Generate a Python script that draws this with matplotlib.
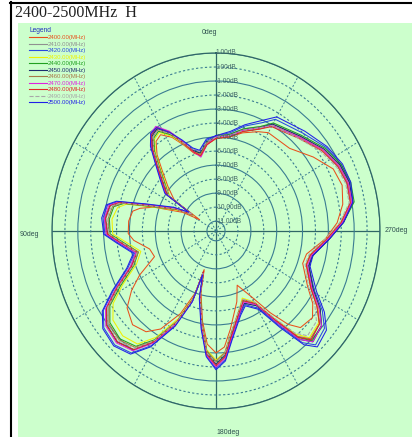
import numpy as np
import matplotlib
matplotlib.use("Agg")
import matplotlib.pyplot as plt
from matplotlib.lines import Line2D
from matplotlib.patches import Rectangle

W, H = 412, 437

# angles along the traced path (deg, 0 at top, counter-clockwise)
angles = [0, 6.5, 12.5, 17, 22, 27, 32, 36, 40, 44,
          49.5, 55.8, 57.5, 62.7, 70.5, 74.6, 77.6, 84, 91.5, 96,
          104, 111, 118, 123, 128.5, 136, 143, 148.5, 155, 160,
          161.6, 165, 170.7, 175.2, 180, 184.5, 189, 197.7, 203, 210.6,
          215.8, 220, 223.5, 230.4, 235.4, 241, 251, 256.8, 266.3, 273.6,
          281, 288.5, 296, 305, 316, 330, 335.3, 343.6, 351, 360]

freqs = ["2400.00(MHz)", "2410.00(MHz)", "2420.00(MHz)", "2430.00(MHz)",
         "2440.00(MHz)", "2450.00(MHz)", "2460.00(MHz)", "2470.00(MHz)",
         "2480.00(MHz)", "2490.00(MHz)", "2500.00(MHz)"]

g2400 = [-5.1, -5.5, -6.2, -5.9, -5.1, -4.2, -3.6, -3.8, -4.6, -5.7,
         -6.8, -7.8, -10.2, -8.8, -6.6, -5.6, -5.1, -4.9, -4.9, -5.3,
         -6.4, -6.6, -5.0, -3.9, -2.9, -2.4, -2.7, -3.5, -5.2, -7.0,
         -8.8, -7.2, -5.2, -3.6, -3.0, -3.4, -4.6, -6.4, -7.5, -6.2,
         -4.5, -3.0, -2.2, -2.0, -2.6, -3.6, -4.6, -4.5, -3.2, -2.3,
         -1.7, -1.4, -1.6, -2.5, -3.5, -3.6, -3.9, -4.4, -4.9, -5.1]
g2410 = [-5.0, -5.3, -6.0, -5.6, -4.8, -3.8, -3.1, -3.2, -4.0, -5.1,
         -6.2, -7.1, -9.4, -8.2, -6.2, -4.0, -3.3, -3.0, -3.2, -4.1,
         -5.3, -4.6, -2.9, -1.6, -0.9, -0.7, -1.1, -2.4, -4.4, -6.4,
         -8.5, -6.8, -4.8, -3.0, -2.2, -2.8, -4.1, -5.6, -6.1, -5.5,
         -3.8, -1.8, -1.0, -1.3, -2.1, -3.3, -4.3, -4.2, -3.1, -2.0,
         -1.1, -1.0, -1.2, -1.6, -2.3, -2.9, -3.5, -4.1, -4.7, -5.0]
g2420 = [-4.9, -5.2, -5.9, -5.6, -4.8, -3.9, -3.1, -3.2, -3.9, -5.0,
         -6.1, -7.0, -9.3, -8.1, -6.0, -3.8, -3.1, -2.9, -3.1, -4.0,
         -5.2, -4.4, -2.7, -1.3, -0.6, -0.4, -0.8, -2.1, -4.3, -6.4,
         -8.5, -6.8, -4.7, -2.8, -1.9, -2.5, -3.9, -5.5, -6.0, -5.3,
         -3.4, -1.3, -0.5, -0.8, -1.7, -3.0, -4.1, -4.1, -3.0, -1.9,
         -1.0, -0.8, -0.9, -1.3, -2.0, -2.5, -3.2, -3.9, -4.6, -4.9]
g2430 = [-5.1, -5.4, -6.0, -5.8, -5.0, -4.1, -3.4, -3.6, -4.4, -5.5,
         -6.6, -7.4, -9.6, -8.5, -6.6, -4.5, -3.9, -3.6, -3.7, -4.6,
         -5.7, -5.1, -3.5, -2.2, -1.5, -1.3, -1.6, -2.8, -4.8, -6.7,
         -8.7, -7.0, -5.0, -3.2, -2.5, -3.0, -4.3, -5.8, -6.5, -5.8,
         -4.0, -2.1, -1.2, -1.4, -2.1, -3.3, -4.3, -4.2, -3.1, -2.0,
         -1.0, -0.9, -1.1, -1.6, -2.4, -3.0, -3.6, -4.2, -4.8, -5.1]
g2440 = [-5.0, -5.3, -6.0, -5.7, -4.9, -4.0, -3.3, -3.5, -4.3, -5.4,
         -6.5, -7.3, -9.5, -8.4, -6.5, -4.3, -3.6, -3.4, -3.5, -4.4,
         -5.5, -4.9, -3.3, -1.9, -1.2, -1.0, -1.4, -2.6, -4.6, -6.6,
         -8.6, -7.0, -5.0, -3.1, -2.3, -2.9, -4.2, -5.7, -6.3, -5.6,
         -3.8, -1.8, -0.9, -1.1, -1.9, -3.1, -4.1, -4.0, -2.9, -1.8,
         -0.8, -0.7, -0.9, -1.4, -2.2, -2.8, -3.5, -4.1, -4.7, -5.0]
g2450 = [-5.0, -5.3, -6.0, -5.7, -4.9, -3.9, -3.1, -3.3, -4.1, -5.2,
         -6.3, -7.2, -9.5, -8.3, -6.3, -4.0, -3.3, -3.1, -3.3, -4.2,
         -5.4, -4.7, -3.0, -1.6, -0.9, -0.7, -1.1, -2.4, -4.5, -6.5,
         -8.6, -6.9, -4.9, -3.0, -2.2, -2.8, -4.1, -5.6, -6.1, -5.5,
         -3.7, -1.6, -0.8, -1.1, -1.9, -3.1, -4.1, -4.0, -2.9, -1.8,
         -0.9, -0.8, -1.0, -1.5, -2.3, -2.9, -3.6, -4.2, -4.8, -5.0]
g2460 = [-5.0, -5.4, -6.1, -5.8, -5.0, -3.9, -3.2, -3.4, -4.2, -5.3,
         -6.4, -7.3, -9.6, -8.4, -6.4, -4.2, -3.5, -3.3, -3.4, -4.3,
         -5.5, -4.8, -3.1, -1.8, -1.1, -0.9, -1.3, -2.5, -4.6, -6.6,
         -8.6, -7.0, -5.0, -3.1, -2.4, -3.0, -4.3, -5.8, -6.4, -5.7,
         -3.9, -1.9, -1.1, -1.3, -2.2, -3.3, -4.3, -4.2, -3.0, -1.9,
         -1.0, -0.9, -1.1, -1.6, -2.4, -3.0, -3.7, -4.3, -4.9, -5.0]
g2470 = [-5.0, -5.5, -6.3, -5.8, -4.8, -3.7, -2.9, -3.1, -3.9, -5.0,
         -6.1, -7.0, -9.4, -8.2, -6.1, -3.9, -3.2, -3.0, -3.2, -4.1,
         -5.3, -4.6, -2.9, -1.5, -0.8, -0.6, -1.0, -2.3, -4.4, -6.4,
         -8.6, -6.9, -4.8, -2.8, -2.0, -2.6, -4.0, -5.6, -6.2, -5.6,
         -3.7, -1.6, -0.8, -1.1, -2.0, -3.2, -4.2, -4.1, -3.0, -1.9,
         -1.0, -0.9, -1.1, -1.6, -2.4, -3.0, -3.6, -4.2, -4.8, -5.0]
g2480 = [-5.1, -5.5, -6.2, -5.8, -4.9, -3.8, -3.0, -3.2, -4.0, -5.1,
         -6.2, -7.1, -9.5, -8.3, -6.2, -4.0, -3.3, -3.1, -3.3, -4.2,
         -5.4, -4.7, -3.0, -1.6, -0.9, -0.7, -1.1, -2.4, -4.5, -6.5,
         -8.7, -6.9, -4.9, -2.9, -2.1, -2.7, -4.1, -5.7, -6.3, -5.7,
         -3.9, -1.8, -1.0, -1.3, -2.2, -3.3, -4.3, -4.2, -3.1, -2.0,
         -1.1, -1.0, -1.2, -1.7, -2.5, -3.1, -3.7, -4.3, -4.9, -5.1]
g2490 = [-5.0, -5.3, -5.9, -5.6, -4.9, -3.9, -3.2, -3.4, -4.2, -5.3,
         -6.4, -7.3, -9.5, -8.3, -6.3, -4.1, -3.4, -3.2, -3.4, -4.3,
         -5.4, -4.8, -3.1, -1.7, -1.0, -0.8, -1.2, -2.5, -4.5, -6.5,
         -8.5, -6.9, -4.9, -3.0, -2.3, -2.9, -4.3, -5.8, -6.4, -5.8,
         -4.1, -2.2, -1.4, -1.6, -2.4, -3.5, -4.4, -4.3, -3.2, -2.1,
         -1.2, -1.1, -1.3, -1.8, -2.5, -3.0, -3.6, -4.2, -4.8, -5.0]
g2500 = [-4.9, -5.1, -5.8, -5.5, -4.7, -3.8, -3.0, -3.1, -3.8, -4.9,
         -6.0, -6.9, -9.2, -8.0, -5.9, -3.7, -3.0, -2.8, -3.0, -3.9,
         -5.1, -4.3, -2.6, -1.2, -0.5, -0.3, -0.7, -2.0, -4.2, -6.3,
         -8.4, -6.7, -4.6, -2.7, -1.8, -2.4, -3.8, -5.4, -5.9, -5.2,
         -3.2, -1.1, -0.3, -0.6, -1.5, -2.8, -4.0, -4.0, -2.9, -1.8,
         -0.9, -0.7, -0.8, -1.2, -1.8, -2.3, -3.0, -3.8, -4.5, -4.9]

gains = [g2400, g2410, g2420, g2430, g2440, g2450,
         g2460, g2470, g2480, g2490, g2500]
colors = ["#e8501c", "#909090", "#2848e0", "#f0f000", "#20a020", "#1c2c70",
          "#a87848", "#e020e0", "#e02828", "#a8a8a8", "#2020e8"]
styles = ["-"] * 9 + ["--", "-"]

ring_vals = list(range(1, -12, -1))
bg = "#ccffcc"
ring_col = "#3a7c92"
axis_col = "#2f6666"

fig = plt.figure(figsize=(W / 100, H / 100), dpi=100)
fig.patch.set_facecolor("white")
fig.add_artist(Rectangle((18 / W, 0), 1 - 18 / W, 1 - 23 / H,
                         transform=fig.transFigure, facecolor=bg,
                         edgecolor="none", zorder=0))
fig.add_artist(Line2D([10.5 / W, 10.5 / W], [0, 1 - 2 / H],
                      transform=fig.transFigure, color="black", lw=1.5))
fig.add_artist(Line2D([10 / W, 1], [1 - 2.5 / H, 1 - 2.5 / H],
                      transform=fig.transFigure, color="black", lw=1.5))

fig.text(15 / W, 1 - 13 / H, "2400-2500MHz  H", family="Liberation Serif",
         fontsize=11.5, va="center", ha="left", color="#202020")

ax = fig.add_axes([52 / W, 28 / H, 328 / W, 356 / H], projection="polar")
ax.set_aspect("auto")
ax.set_facecolor(bg)
ax.set_theta_zero_location("N")
ax.set_theta_direction(1)
ax.set_ylim(-11.7, 1)

th = np.deg2rad(angles)
for g, c, ls in zip(gains, colors, styles):
    ax.plot(th, g, color=c, lw=0.75, ls=ls)

# radial rings
ax.set_yticks(ring_vals)
ax.set_yticklabels([])
for v, gl in zip(ring_vals, ax.yaxis.get_gridlines()):
    gl.set_color(ring_col)
    gl.set_linewidth(0.8)
    gl.set_linestyle("-" if (1 - v) % 2 == 0 else (0, (2, 2)))
    gl.set_alpha(1)

# spokes
spoke_deg = list(range(0, 360, 30))
ax.set_xticks(np.deg2rad(spoke_deg))
ax.set_xticklabels([])
for d, gl in zip(spoke_deg, ax.xaxis.get_gridlines()):
    if d % 90 == 0:
        gl.set_color(axis_col)
        gl.set_linestyle("-")
        gl.set_linewidth(0.9)
    else:
        gl.set_color(ring_col)
        gl.set_linestyle((0, (2, 2)))
        gl.set_linewidth(0.7)
ax.tick_params(length=0)
ax.spines["polar"].set_color(axis_col)
ax.spines["polar"].set_linewidth(0.9)

for v in ring_vals:
    ax.text(0, v, f"{v:.2f}dB", ha="left", va="center", fontsize=4.8,
            family="Liberation Sans", color="#3f6464")

small = dict(fontsize=5, family="Liberation Sans", color="#2f5050")
fig.text(210 / W, 1 - 32 / H, "0deg", ha="center", va="center", **small)
fig.text(20 / W, 1 - 234 / H, "90deg", ha="left", va="center", **small)
fig.text(385 / W, 1 - 230 / H, "270deg", ha="left", va="center", **small)
fig.text(216 / W, 1 - 432 / H, "180deg", ha="left", va="center", **small)

handles = [Line2D([], [], color=c, lw=0.8, ls=ls) for c, ls in zip(colors, styles)]
leg = fig.legend(handles, freqs, loc="upper left",
                 bbox_to_anchor=(29 / W, 1 - 27 / H), title="Legend",
                 frameon=False, labelcolor="linecolor", handlelength=3.0,
                 handletextpad=0.1, labelspacing=0.22, borderpad=0,
                 borderaxespad=0, alignment="left",
                 prop={"family": "Liberation Sans", "size": 4.3})
leg.get_title().set_color("#2030c0")
leg.get_title().set_family("Liberation Sans")
leg.get_title().set_fontsize(4.8)

fig.savefig("out.png", dpi=100, facecolor=fig.get_facecolor())
